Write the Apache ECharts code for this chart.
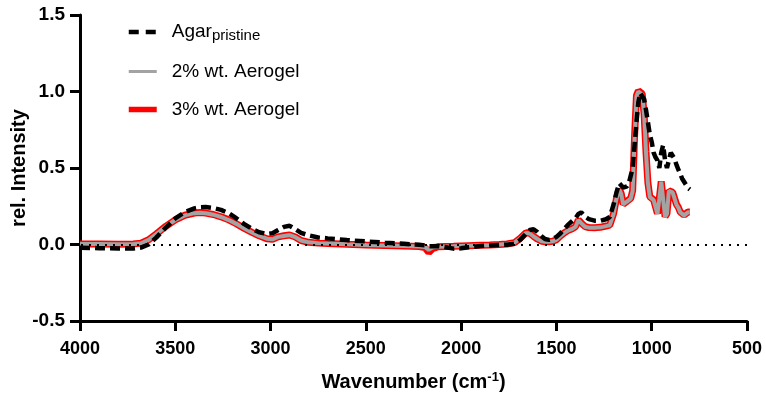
<!DOCTYPE html>
<html>
<head>
<meta charset="utf-8">
<style>
    html, body { margin: 0; padding: 0; background: #fff; }
    #main { width: 766px; height: 401px; }
</style>
</head>
<body>
<div id="main"></div>
<script src="https://cdn.jsdelivr.net/npm/echarts@6/dist/echarts.min.js"></script>
<script>
// wavenumber (cm-1) points shared by the three spectra
var wavenumbers = [4000, 3900, 3800, 3720, 3680, 3640, 3600, 3550, 3500, 3450, 3400, 3370, 3340, 3300, 3260, 3220, 3180, 3140, 3100, 3060,
    3020, 2990, 2960, 2930, 2900, 2870, 2840, 2800, 2750, 2700, 2600, 2500, 2400, 2300, 2220, 2190, 2170, 2150, 2120, 2080,
    2040, 2000, 1960, 1900, 1850, 1800, 1760, 1720, 1690, 1660, 1640, 1620, 1600, 1580, 1560, 1540, 1520, 1500, 1480, 1460,
    1440, 1420, 1400, 1385, 1370, 1350, 1330, 1300, 1270, 1240, 1220, 1200, 1185, 1170, 1160, 1150, 1140, 1130, 1120, 1110,
    1100, 1090, 1080, 1070, 1060, 1050, 1040, 1030, 1020, 1010, 1000, 990, 980, 970, 960, 950, 940, 930, 920, 910,
    900, 890, 880, 870, 860, 850, 840, 830, 820, 810, 800];

var agarPristine = [-0.022, -0.024, -0.026, -0.026, -0.020, 0.000, 0.045, 0.110, 0.170, 0.212, 0.236, 0.243, 0.245, 0.238, 0.226, 0.205, 0.172, 0.135, 0.104, 0.080,
    0.069, 0.074, 0.095, 0.115, 0.122, 0.100, 0.076, 0.060, 0.046, 0.040, 0.029, 0.020, 0.012, 0.005, -0.002, -0.006, -0.012, -0.012, -0.010, -0.018,
    -0.027, -0.025, -0.018, -0.010, -0.006, -0.004, -0.001, 0.006, 0.030, 0.070, 0.095, 0.100, 0.082, 0.056, 0.036, 0.030, 0.035, 0.050, 0.072, 0.100,
    0.128, 0.150, 0.172, 0.200, 0.210, 0.182, 0.166, 0.156, 0.155, 0.165, 0.180, 0.262, 0.340, 0.400, 0.400, 0.372, 0.370, 0.380, 0.400, 0.450,
    0.500, 0.650, 0.800, 0.930, 0.990, 1.000, 0.950, 0.880, 0.800, 0.720, 0.670, 0.600, 0.570, 0.550, 0.500, 0.600, 0.650, 0.550, 0.500, 0.550,
    0.600, 0.600, 0.560, 0.520, 0.490, 0.460, 0.430, 0.410, 0.390, 0.370, 0.360];

var aerogel2 = [0.003, 0.003, 0.002, 0.003, 0.008, 0.030, 0.068, 0.118, 0.160, 0.190, 0.205, 0.208, 0.204, 0.195, 0.180, 0.160, 0.135, 0.106, 0.080, 0.056,
    0.038, 0.034, 0.050, 0.056, 0.062, 0.048, 0.026, 0.014, 0.009, 0.006, 0.001, -0.003, -0.006, -0.010, -0.013, -0.016, -0.035, -0.020, -0.014, -0.013,
    -0.012, -0.010, -0.008, -0.005, -0.003, 0.000, 0.003, 0.012, 0.040, 0.076, 0.072, 0.052, 0.036, 0.023, 0.018, 0.018, 0.021, 0.030, 0.054, 0.074,
    0.090, 0.100, 0.115, 0.160, 0.140, 0.116, 0.110, 0.110, 0.112, 0.120, 0.126, 0.200, 0.300, 0.360, 0.330, 0.262, 0.250, 0.280, 0.290, 0.300,
    0.350, 0.700, 0.970, 1.000, 1.000, 0.980, 0.850, 0.600, 0.400, 0.310, 0.300, 0.290, 0.300, 0.200, 0.300, 0.410, 0.410, 0.180, 0.200, 0.350,
    0.360, 0.340, 0.300, 0.260, 0.240, 0.210, 0.200, 0.190, 0.200, 0.210, 0.210];

var aerogel3 = [0.003, 0.003, 0.002, 0.003, 0.009, 0.031, 0.069, 0.119, 0.161, 0.191, 0.206, 0.209, 0.205, 0.196, 0.181, 0.161, 0.136, 0.107, 0.081, 0.057,
    0.038, 0.034, 0.050, 0.057, 0.062, 0.049, 0.026, 0.014, 0.009, 0.006, 0.001, -0.003, -0.006, -0.010, -0.013, -0.020, -0.052, -0.028, -0.015, -0.013,
    -0.012, -0.010, -0.008, -0.005, -0.003, 0.000, 0.003, 0.012, 0.041, 0.077, 0.073, 0.053, 0.036, 0.023, 0.018, 0.018, 0.021, 0.031, 0.055, 0.075,
    0.091, 0.101, 0.116, 0.162, 0.141, 0.117, 0.111, 0.110, 0.112, 0.121, 0.127, 0.202, 0.302, 0.362, 0.332, 0.264, 0.252, 0.282, 0.292, 0.302,
    0.352, 0.705, 0.975, 1.005, 1.003, 0.985, 0.855, 0.605, 0.404, 0.312, 0.302, 0.292, 0.302, 0.202, 0.302, 0.412, 0.412, 0.182, 0.202, 0.352,
    0.362, 0.342, 0.302, 0.262, 0.242, 0.212, 0.202, 0.192, 0.202, 0.212, 0.212];

var xTicks = [4000, 3500, 3000, 2500, 2000, 1500, 1000, 500];
var yTicks = [-0.5, 0.0, 0.5, 1.0, 1.5];

function pairs(vals) {
    return wavenumbers.map(function (w, i) { return [w, vals[i]]; });
}

var myChart = echarts.init(document.getElementById('main'));
var font = 'Liberation Sans, Arial, Helvetica, sans-serif';

myChart.setOption({
    animation: false,
    backgroundColor: '#fff',
    textStyle: { fontFamily: font },
    grid: { left: 80, right: 19, top: 15, bottom: 80, outerBoundsMode: 'none', containLabel: false },
    legend: {
        orient: 'vertical',
        left: 121,
        top: 15,
        itemWidth: 28,
        itemHeight: 14,
        itemGap: 19,
        itemStyle: { opacity: 0 },
        data: [
            { name: 'Agar', lineStyle: { width: 4.5, type: [10, 7] } },
            { name: '2% wt. Aerogel', lineStyle: { width: 3 } },
            { name: '3% wt. Aerogel', lineStyle: { width: 5.5 } }
        ],
        formatter: function (name) {
            if (name === 'Agar') return '{a|Agar}{s|pristine}';
            return '{a|' + name + '}';
        },
        textStyle: {
            padding: [0, 0, 0, 10],
            rich: {
                a: { fontSize: 19, fontFamily: font, color: '#000', lineHeight: 22 },
                s: { fontSize: 15, fontFamily: font, color: '#000', lineHeight: 22, verticalAlign: 'bottom', padding: [8, 0, 0, 0] }
            }
        }
    },
    xAxis: {
        type: 'value',
        inverse: true,
        min: 500,
        max: 4000,
        interval: 500,
        name: 'Wavenumber (cm{sup|-1})',
        nameLocation: 'middle',
        nameGap: 50,
        nameTextStyle: {
            fontSize: 20, fontWeight: 'bold', color: '#000', fontFamily: font,
            rich: {
                sup: { fontSize: 13, fontWeight: 'bold', color: '#000', fontFamily: font, verticalAlign: 'top', padding: [0, 0, 10, 0] }
            }
        },
        axisLine: { onZero: false, lineStyle: { color: '#000', width: 3 } },
        axisTick: { length: 10, lineStyle: { color: '#000', width: 3 } },
        axisLabel: { margin: 19, fontSize: 18, fontWeight: 'bold', color: '#000', fontFamily: font,
            formatter: function (v) { return xTicks.indexOf(v) >= 0 ? String(v) : ''; } },
        splitLine: { show: false }
    },
    yAxis: {
        type: 'value',
        min: -0.5,
        max: 1.5,
        interval: 0.5,
        name: 'rel. Intensity',
        nameLocation: 'middle',
        nameGap: 51,
        nameMoveOverlap: false,
        nameTextStyle: { fontSize: 20, fontWeight: 'bold', color: '#000', fontFamily: font },
        axisLine: { show: true, onZero: false, lineStyle: { color: '#000', width: 3 } },
        axisTick: { show: true, length: 10, lineStyle: { color: '#000', width: 3 } },
        axisLabel: { margin: 15, fontSize: 19, fontWeight: 'bold', color: '#000', fontFamily: font,
            formatter: function (v) {
                var t = yTicks.filter(function (y) { return Math.abs(y - v) < 1e-9; });
                return t.length ? t[0].toFixed(1) : '';
            } },
        splitLine: { show: false }
    },
    series: [
        {
            name: '3% wt. Aerogel',
            type: 'line',
            symbol: 'none',
            data: pairs(aerogel3),
            lineStyle: { color: '#ff0000', width: 7 },
            itemStyle: { color: '#ff0000' },
            markLine: {
                silent: true,
                symbol: 'none',
                label: { show: false },
                lineStyle: { color: '#000', width: 2, type: [2, 6] },
                data: [{ yAxis: 0 }]
            }
        },
        {
            name: '2% wt. Aerogel',
            type: 'line',
            symbol: 'none',
            data: pairs(aerogel2),
            lineStyle: { color: '#a3a3a3', width: 4 },
            itemStyle: { color: '#a3a3a3' }
        },
        {
            name: 'Agar',
            type: 'line',
            symbol: 'none',
            data: pairs(agarPristine),
            lineStyle: { color: '#000', width: 4.5, type: [10, 5] },
            itemStyle: { color: '#000' }
        }
    ]
});
</script>
</body>
</html>
